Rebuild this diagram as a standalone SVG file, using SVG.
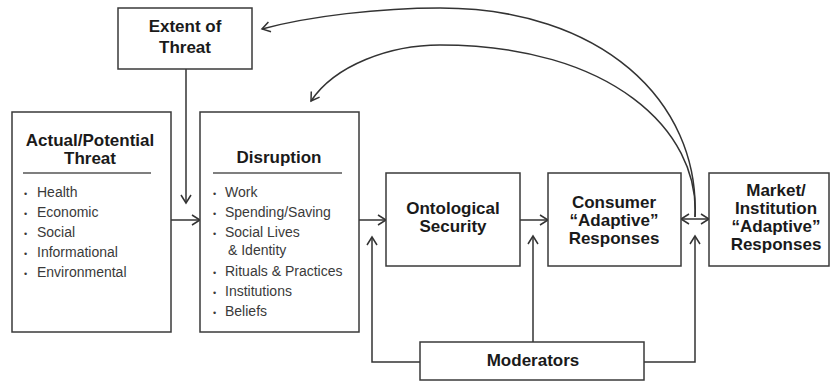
<svg xmlns="http://www.w3.org/2000/svg" width="831" height="382" viewBox="0 0 831 382">
<style>
.box{fill:#fff;stroke:#3a3a3a;stroke-width:1.5}
.t{font-family:"Liberation Sans",Arial,sans-serif;font-weight:bold;font-size:17px;fill:#1a1a1a;text-anchor:middle}
.b{font-family:"Liberation Sans",Arial,sans-serif;font-size:14px;fill:#3a3a3a}
.d{font-size:9px}
.c{fill:none;stroke:#333;stroke-width:1.5}
.div{stroke:#555;stroke-width:1.5}
</style>
<defs>
<marker id="ah" markerUnits="userSpaceOnUse" markerWidth="14" markerHeight="14" refX="0" refY="0" viewBox="-10 -7 12 14" orient="auto">
<path d="M-8,-5 L0,0 L-8,5" fill="none" stroke="#333" stroke-width="1.5"/>
</marker>
<marker id="ahs" markerUnits="userSpaceOnUse" markerWidth="14" markerHeight="14" refX="0" refY="0" viewBox="-10 -7 12 14" orient="auto-start-reverse">
<path d="M-8,-5 L0,0 L-8,5" fill="none" stroke="#333" stroke-width="1.5"/>
</marker>
</defs>
<rect width="831" height="382" fill="#fff"/>
<g id="connectors">
<path class="c" d="M186,69 V203" marker-end="url(#ah)"/>
<path class="c" d="M171,220 H200" marker-end="url(#ah)"/>
<path class="c" d="M359,220 H386" marker-end="url(#ah)"/>
<path class="c" d="M520,220 H548" marker-end="url(#ah)"/>
<path class="c" d="M681,219 H709" marker-start="url(#ahs)" marker-end="url(#ah)"/>
<path class="c" d="M420,362 H372 V237" marker-end="url(#ah)"/>
<path class="c" d="M533,342 V236" marker-end="url(#ah)"/>
<path class="c" d="M644,362 H695 V236" marker-end="url(#ah)"/>
<path class="c" d="M695,217 C700,100 600,8 440,8 C380,8 310,16 262,29" marker-end="url(#ah)"/>
<path class="c" d="M695,217 C700,130 610,45 440,45 C390,45 335,65 311,101" marker-end="url(#ah)"/>
</g>
<g id="extent">
<rect class="box" x="118" y="8" width="134" height="61"/>
<text class="t" x="185" y="32">Extent of</text>
<text class="t" x="185" y="53">Threat</text>
</g>
<g id="threat">
<rect class="box" x="12" y="112" width="159" height="220"/>
<text class="t" x="90" y="146">Actual/Potential</text>
<text class="t" x="90" y="164">Threat</text>
<line class="div" x1="23" y1="173" x2="151" y2="173"/>
<text class="b" y="197"><tspan class="d" x="24">•</tspan><tspan x="37">Health</tspan></text>
<text class="b" y="217"><tspan class="d" x="24">•</tspan><tspan x="37">Economic</tspan></text>
<text class="b" y="237"><tspan class="d" x="24">•</tspan><tspan x="37">Social</tspan></text>
<text class="b" y="257"><tspan class="d" x="24">•</tspan><tspan x="37">Informational</tspan></text>
<text class="b" y="277"><tspan class="d" x="24">•</tspan><tspan x="37">Environmental</tspan></text>
</g>
<g id="disruption">
<rect class="box" x="200" y="112" width="159" height="220"/>
<text class="t" x="279" y="163">Disruption</text>
<line class="div" x1="213" y1="173" x2="342" y2="173"/>
<text class="b" y="197"><tspan class="d" x="213">•</tspan><tspan x="225">Work</tspan></text>
<text class="b" y="217"><tspan class="d" x="213">•</tspan><tspan x="225">Spending/Saving</tspan></text>
<text class="b" y="237"><tspan class="d" x="213">•</tspan><tspan x="225">Social Lives</tspan></text>
<text class="b" x="228" y="255">&amp; Identity</text>
<text class="b" y="276"><tspan class="d" x="213">•</tspan><tspan x="225">Rituals &amp; Practices</tspan></text>
<text class="b" y="296"><tspan class="d" x="213">•</tspan><tspan x="225">Institutions</tspan></text>
<text class="b" y="316"><tspan class="d" x="213">•</tspan><tspan x="225">Beliefs</tspan></text>
</g>
<g id="ontological">
<rect class="box" x="386" y="173" width="134" height="93"/>
<text class="t" x="453" y="214">Ontological</text>
<text class="t" x="453" y="232">Security</text>
</g>
<g id="consumer">
<rect class="box" x="548" y="173" width="133" height="93"/>
<text class="t" x="614" y="208">Consumer</text>
<text class="t" x="614" y="226">“Adaptive”</text>
<text class="t" x="614" y="244">Responses</text>
</g>
<g id="market">
<rect class="box" x="709" y="173" width="120" height="93"/>
<text class="t" x="776" y="196">Market/</text>
<text class="t" x="776" y="214">Institution</text>
<text class="t" x="776" y="232">“Adaptive”</text>
<text class="t" x="776" y="250">Responses</text>
</g>
<g id="moderators">
<rect class="box" x="420" y="342" width="224" height="38"/>
<text class="t" x="533" y="366">Moderators</text>
</g>
</svg>
